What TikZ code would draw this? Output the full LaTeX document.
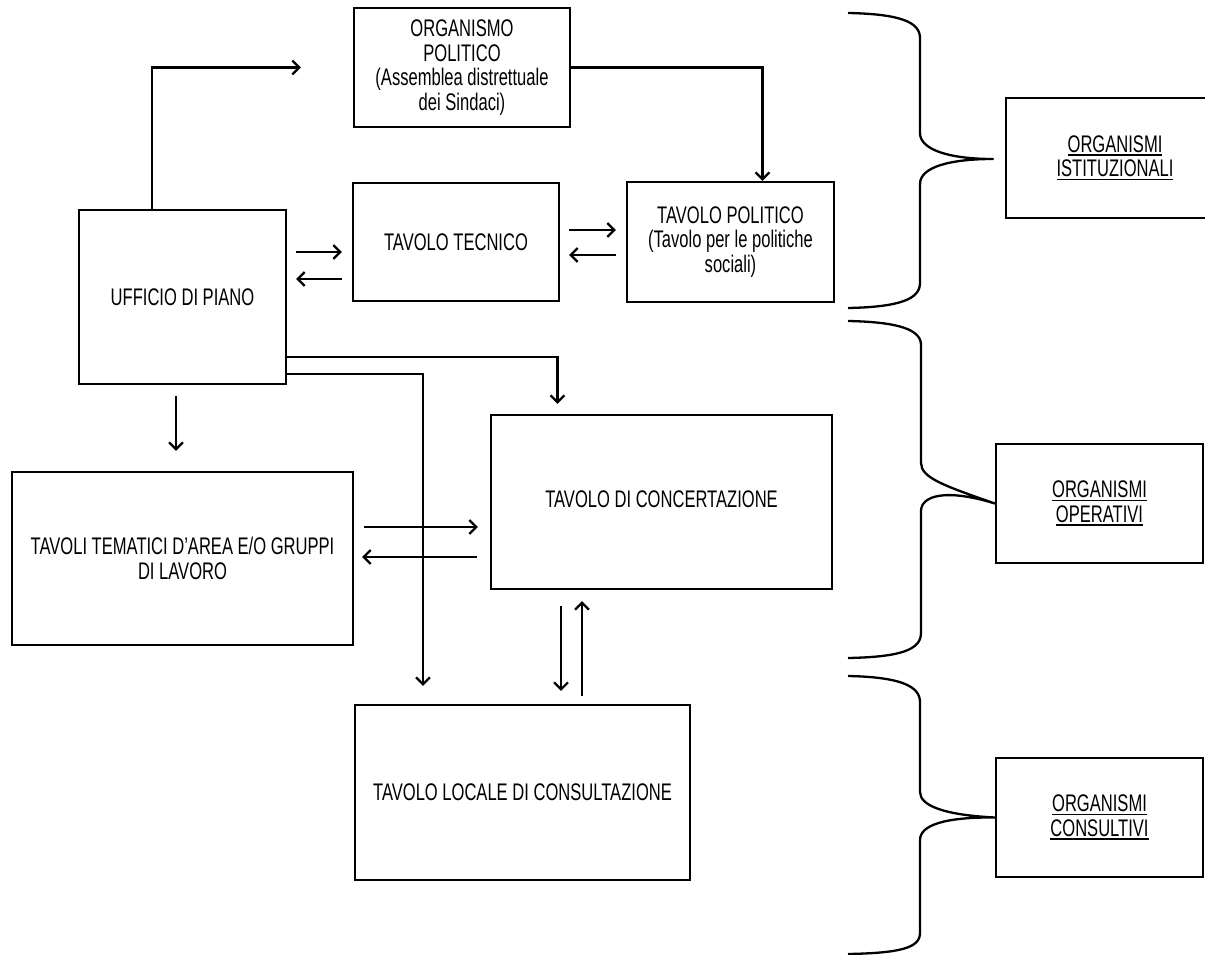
\documentclass[tikz,border=0pt]{standalone}
\usepackage{fontspec}
\setmainfont{Liberation Sans}[FakeStretch=0.69]
\usetikzlibrary{arrows.meta,calc}
\newcommand\myul[1]{\setbox0\hbox{#1}\rlap{\rule[-3.5pt]{\wd0}{1.8pt}}\box0}
\tikzset{
  box/.style={draw, line width=2.3pt, align=center, inner sep=0pt, font=\fontsize{24}{24.5}\selectfont},
  arr/.style={line width=2.2pt, -{Straight Barb[length=7pt,width=14pt,line width=2.2pt]}},
  brace/.style={line width=2.3pt, line join=round},
}
\begin{document}
\begin{tikzpicture}[x=1pt,y=-1pt]
\useasboundingbox (0,0) rectangle (1205,955);
\clip (0,0) rectangle (1205,955);
\node[box, minimum width=216pt, minimum height=119pt] (op) at (462,67.5) {ORGANISMO\\POLITICO\\(Assemblea distrettuale\\dei Sindaci)};
\node[box, minimum width=207pt, minimum height=174pt] (up) at (182.5,297) {UFFICIO DI PIANO};
\node[box, minimum width=206pt, minimum height=118pt] (tt) at (456,242) {TAVOLO TECNICO};
\node[box, minimum width=207pt, minimum height=120pt] (tp) at (730.5,242) {TAVOLO POLITICO\\(Tavolo per le politiche\\sociali)};
\node[box, minimum width=341pt, minimum height=173pt] (tm) at (182.5,558.5) {TAVOLI TEMATICI D'AREA E/O GRUPPI\\DI LAVORO};
\node[box, minimum width=341pt, minimum height=174pt] (tc) at (661.5,502) {\raisebox{5pt}{TAVOLO DI CONCERTAZIONE}};
\node[box, minimum width=335pt, minimum height=175pt] (tl) at (522.5,792.5) {TAVOLO LOCALE DI CONSULTAZIONE};
\node[box, minimum width=218pt, minimum height=120pt] (oi) at (1115,158) {\myul{ORGANISMI}\\\myul{ISTITUZIONALI}};
\node[box, minimum width=207pt, minimum height=119pt] (oo) at (1099.5,503.5) {\myul{ORGANISMI}\\\myul{OPERATIVI}};
\node[box, minimum width=207pt, minimum height=119pt] (oc) at (1099.5,817.5) {\myul{ORGANISMI}\\\myul{CONSULTIVI}};

% connectors
\draw[arr] ($(up.north)+(-30.5,0)$) |- ($(op.west)+(-52,0)$);
\draw[arr] (op.east) -| ($(tp.north)+(32,0)$);
\draw[arr] ($(up.east)+(9,-45)$) -- ($(tt.west)+(-10,10)$);
\draw[arr] ($(tt.west)+(-10,37)$) -- ($(up.east)+(9,-18)$);
\draw[arr] ($(tt.east)+(9,-12)$) -- ($(tp.west)+(-10,-12)$);
\draw[arr] ($(tp.west)+(-10,13)$) -- ($(tt.east)+(9,13)$);
\draw[arr] ($(up.east)+(0,60)$) -| ($(tc.north)+(-104,-10)$);
\draw[arr] ($(up.east)+(0,77)$) -| ($(tl.north)+(-99.5,-18)$);
\draw[arr] ($(up.south)+(-6.5,11)$) -- ($(tm.north)+(-6.5,-20)$);
\draw[arr] ($(tm.east)+(10,-31.5)$) -- ($(tc.west)+(-12,25)$);
\draw[arr] ($(tc.west)+(-13,55)$) -- ($(tm.east)+(8,-1.5)$);
\draw[arr] ($(tc.south)+(-100.5,16)$) -- ($(tl.north)+(38.5,-13)$);
\draw[arr] ($(tl.north)+(59.5,-8)$) -- ($(tc.south)+(-79.5,11)$);

% braces
\draw[brace] (848,13) .. controls (900,14) and (920,22) .. (920,38) -- (920,133)
  .. controls (920,150) and (950,159) .. (993,159)
  .. controls (950,159) and (920,167) .. (920,184) -- (920,283)
  .. controls (920,299) and (900,307) .. (848,308);
\draw[brace] (848,321) .. controls (900,322) and (921,330) .. (921,345) -- (921,463)
  .. controls (921,478) and (945,486) .. (oo.west)
  .. controls (945,488) and (921,496) .. (921,511) -- (921,633)
  .. controls (921,650) and (900,657) .. (848,658);
\draw[brace] (848,676) .. controls (900,677) and (920,686) .. (920,702) -- (920,792)
  .. controls (920,806) and (945,815) .. (oc.west)
  .. controls (945,817) and (920,825) .. (920,840) -- (920,933)
  .. controls (920,948) and (900,953) .. (848,954);
\end{tikzpicture}
\end{document}
